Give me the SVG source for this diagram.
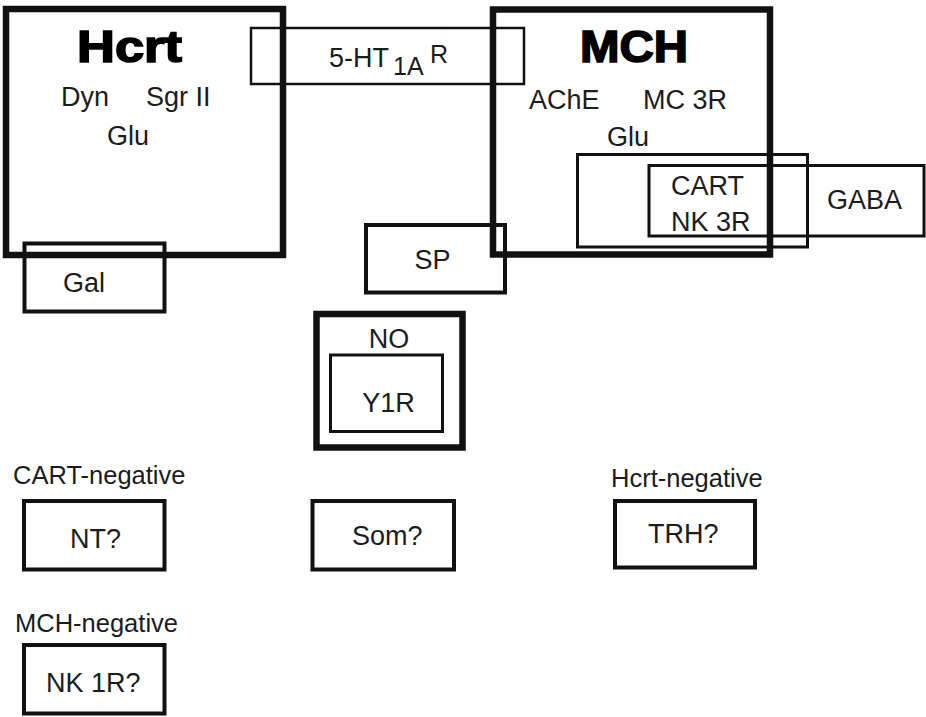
<svg xmlns="http://www.w3.org/2000/svg" width="926" height="717" viewBox="0 0 926 717">
<style>
.b{fill:none;stroke:#111}
.k{stroke-width:6.5}
.m{stroke-width:4}
.t{stroke-width:3}
.s{stroke-width:2.5}
text{font-family:"Liberation Sans",Arial,sans-serif;font-size:27px;fill:#1c1c1c}
.big{font-weight:bold;font-size:44px;fill:#000;stroke:#000;stroke-width:1.6}
.lab{font-size:25.5px}
.sub{font-size:25px}
</style>
<rect width="926" height="717" fill="#fff"/>
<g id="hcrt">
<rect class="b k" x="6" y="9" width="277" height="246"/>
<text class="big" x="77" y="62" textLength="105" lengthAdjust="spacingAndGlyphs">Hcrt</text>
<text x="61" y="106">Dyn</text>
<text x="146" y="106">Sgr II</text>
<text x="107" y="145">Glu</text>
</g>
<g id="mch">
<rect class="b k" x="493" y="9.5" width="277" height="245"/>
<text class="big" x="580" y="62" textLength="108" lengthAdjust="spacingAndGlyphs">MCH</text>
<text x="529" y="109">AChE</text>
<text x="643" y="109">MC 3R</text>
<text x="607" y="146">Glu</text>
</g>
<g id="ht1a">
<rect class="b s" x="251" y="28" width="273" height="56"/>
<text x="329" y="67">5-HT<tspan class="sub" x="393" y="75">1A</tspan><tspan class="sub" x="430" y="63">R</tspan></text>
</g>
<g id="outer-cart">
<rect class="b t" x="577.5" y="154.5" width="230" height="92.5"/>
</g>
<g id="gaba">
<rect class="b t" x="649" y="165.5" width="275" height="70.5"/>
<text x="671" y="195">CART</text>
<text x="671" y="231">NK 3R</text>
<text x="827" y="209">GABA</text>
</g>
<g id="gal">
<rect class="b m" x="24.5" y="243.5" width="140" height="68"/>
<text x="63" y="292">Gal</text>
</g>
<g id="sp">
<rect class="b m" x="366" y="225" width="139" height="67.5"/>
<text x="432.5" y="269" text-anchor="middle">SP</text>
</g>
<g id="no">
<rect class="b k" x="316.5" y="314" width="146" height="133.5"/>
<text x="389" y="348" text-anchor="middle">NO</text>
</g>
<g id="y1r">
<rect class="b t" x="330.5" y="355" width="112" height="76.5"/>
<text x="388.5" y="412" text-anchor="middle">Y1R</text>
</g>
<g id="nt">
<text class="lab" x="13" y="484">CART-negative</text>
<rect class="b m" x="24" y="501" width="140.5" height="68.5"/>
<text x="70" y="548">NT?</text>
</g>
<g id="som">
<rect class="b m" x="312.5" y="501" width="141.5" height="68.5"/>
<text x="352" y="545">Som?</text>
</g>
<g id="trh">
<text class="lab" x="611" y="487">Hcrt-negative</text>
<rect class="b m" x="615" y="501" width="140" height="66.5"/>
<text x="648" y="543">TRH?</text>
</g>
<g id="nk1r">
<text class="lab" x="15" y="632">MCH-negative</text>
<rect class="b m" x="24" y="645" width="140.5" height="68.5"/>
<text x="46" y="692">NK 1R?</text>
</g>
<g id="connectors"></g>
</svg>
